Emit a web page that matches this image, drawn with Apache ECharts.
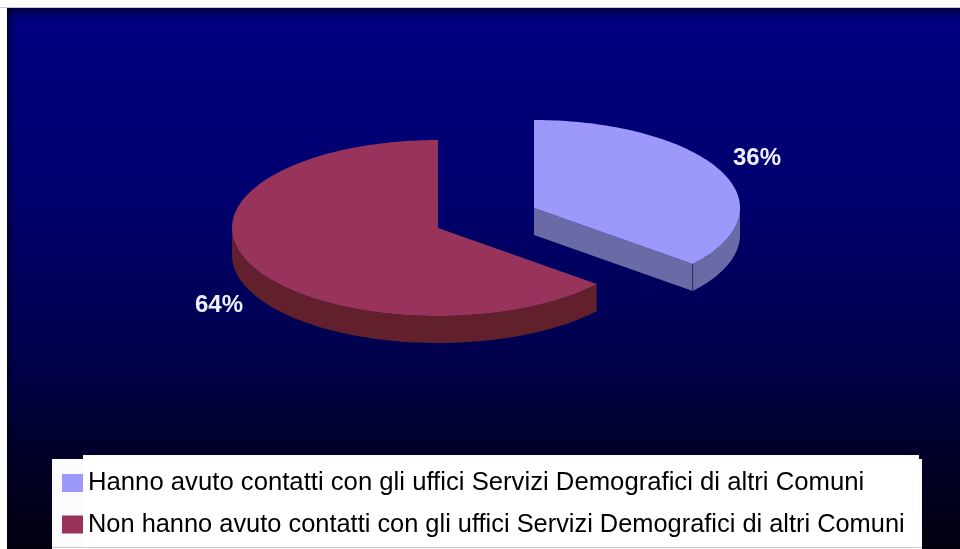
<!DOCTYPE html>
<html>
<head>
<meta charset="utf-8">
<style>html,body{margin:0;padding:0;background:#fff}#chart{width:960px;height:549px}</style>
<script src="https://cdn.jsdelivr.net/npm/echarts@6/dist/echarts.min.js"></script>
</head>
<body>
<div id="chart"></div>
<script>
// Survey answers, as shares of respondents
const categories = [
  'Hanno avuto contatti con gli uffici Servizi Demografici di altri Comuni',
  'Non hanno avuto contatti con gli uffici Servizi Demografici di altri Comuni'
];
const shares = [36, 64];
const valueLabels = ['36%', '64%'];

// Colours and placement of each exploded slice
const topColors = ['#9d99fb', '#98335c'];
const sideColors = ['#6a6aa6', '#61202c'];
const edgeColors = ['#2c2c5c', null];
const centers = [[534, 208], [438, 228]];
const labelAnchors = [[757, 158], [219, 305]];
const legendFontSizes = [25.7, 25.4];
const RX = 206, RY = 88, DEPTH = 27;

const total = shares.reduce((a, b) => a + b, 0);

// Clockwise angle from twelve o'clock, projected on the tilted ellipse
function rimPoint(c, ang, drop) {
  return [c[0] + RX * Math.sin(ang), c[1] - RY * Math.cos(ang) + (drop || 0)];
}
function arc(c, a0, a1, drop) {
  const pts = [];
  const steps = Math.max(2, Math.ceil(Math.abs(a1 - a0) / 0.02));
  for (let i = 0; i <= steps; i++) pts.push(rimPoint(c, a0 + (a1 - a0) * i / steps, drop));
  return pts;
}

function sliceRenderer(index) {
  return function (params, api) {
    const before = shares.slice(0, index).reduce((a, b) => a + b, 0);
    const a0 = before / total * 2 * Math.PI;
    const a1 = (before + api.value(0)) / total * 2 * Math.PI;
    const c = centers[index];
    const children = [];

    // Outer wall: only the part of the rim facing the viewer
    const v0 = Math.max(a0, Math.PI / 2), v1 = Math.min(a1, 3 * Math.PI / 2);
    if (v1 > v0) {
      const upper = arc(c, v0, v1, 0);
      const lower = arc(c, v1, v0, DEPTH);
      children.push({ type: 'polygon', shape: { points: upper.concat(lower) },
        style: { fill: sideColors[index] } });
    }
    // Cut face, visible when the trailing edge of the slice turns towards the viewer
    if (a1 < Math.PI) {
      const tip = rimPoint(c, a1);
      children.push({ type: 'polygon',
        shape: { points: [c, tip, [tip[0], tip[1] + DEPTH], [c[0], c[1] + DEPTH]] },
        style: { fill: sideColors[index] } });
      children.push({ type: 'line',
        shape: { x1: tip[0], y1: tip[1], x2: tip[0], y2: tip[1] + DEPTH },
        style: { stroke: edgeColors[index], lineWidth: 1 } });
    }
    // Top face
    children.push({ type: 'polygon',
      shape: { points: [c].concat(arc(c, a0, a1, 0)) },
      style: { fill: topColors[index] } });
    // Percentage label
    const lab = labelAnchors[index];
    children.push({ type: 'text', x: lab[0], y: lab[1],
      style: { text: valueLabels[index], fill: '#eeeef8', align: 'center', verticalAlign: 'middle',
        font: 'bold 24px "Liberation Sans", Arial, sans-serif' } });
    return { type: 'group', children };
  };
}

const chart = echarts.init(document.getElementById('chart'), null, { renderer: 'canvas' });
chart.setOption({
  animation: false,
  graphic: [
    // Dark slide behind the pie
    { type: 'rect', z: -10, shape: { x: 7, y: 8, width: 953, height: 541 },
      style: { fill: new echarts.graphic.LinearGradient(0, 0, 0, 1, [
        { offset: 0, color: '#000082' },
        { offset: 0.35, color: '#00006e' },
        { offset: 0.62, color: '#000050' },
        { offset: 0.82, color: '#00002a' },
        { offset: 1, color: '#020010' }
      ]) } },
    { type: 'rect', z: -9, shape: { x: 7, y: 8, width: 953, height: 12 },
      style: { fill: new echarts.graphic.LinearGradient(0, 0, 0, 1, [
        { offset: 0, color: 'rgba(0,0,20,0.6)' },
        { offset: 1, color: 'rgba(0,0,20,0)' }
      ]) } },
    { type: 'rect', z: -9, shape: { x: 7, y: 8, width: 8, height: 541 },
      style: { fill: new echarts.graphic.LinearGradient(0, 0, 1, 0, [
        { offset: 0, color: 'rgba(0,0,20,0.55)' },
        { offset: 1, color: 'rgba(0,0,20,0)' }
      ]) } },
    { type: 'line', z: -8, shape: { x1: 0, y1: 7.5, x2: 960, y2: 7.5 },
      style: { stroke: '#c4c4d4', lineWidth: 1 } },
    // White panel holding the legend
    { type: 'rect', z: -7, shape: { x: 52, y: 459, width: 870, height: 90 }, style: { fill: '#fbfbfe' } },
    { type: 'rect', z: -6, shape: { x: 83, y: 455, width: 836, height: 94 }, style: { fill: '#ffffff' } },
    { type: 'line', z: -5, shape: { x1: 52, y1: 547.5, x2: 922, y2: 547.5 },
      style: { stroke: '#c8c8d0', lineWidth: 1 } }
  ],
  legend: {
    left: 62, top: 470,
    padding: 0,
    orient: 'vertical',
    itemWidth: 21, itemHeight: 18, itemGap: 16,
    icon: 'rect',
    selectedMode: false,
    textStyle: { color: '#000', fontFamily: '"Liberation Sans", Arial, sans-serif' },
    data: categories.map((name, i) => ({
      name,
      itemStyle: { color: topColors[i] },
      textStyle: { fontSize: legendFontSizes[i], color: '#000' }
    }))
  },
  series: categories.map((name, i) => ({
    type: 'custom',
    name,
    coordinateSystem: 'none',
    itemStyle: { color: topColors[i] },
    data: [[shares[i]]],
    renderItem: sliceRenderer(i)
  }))
});
</script>
</body>
</html>
